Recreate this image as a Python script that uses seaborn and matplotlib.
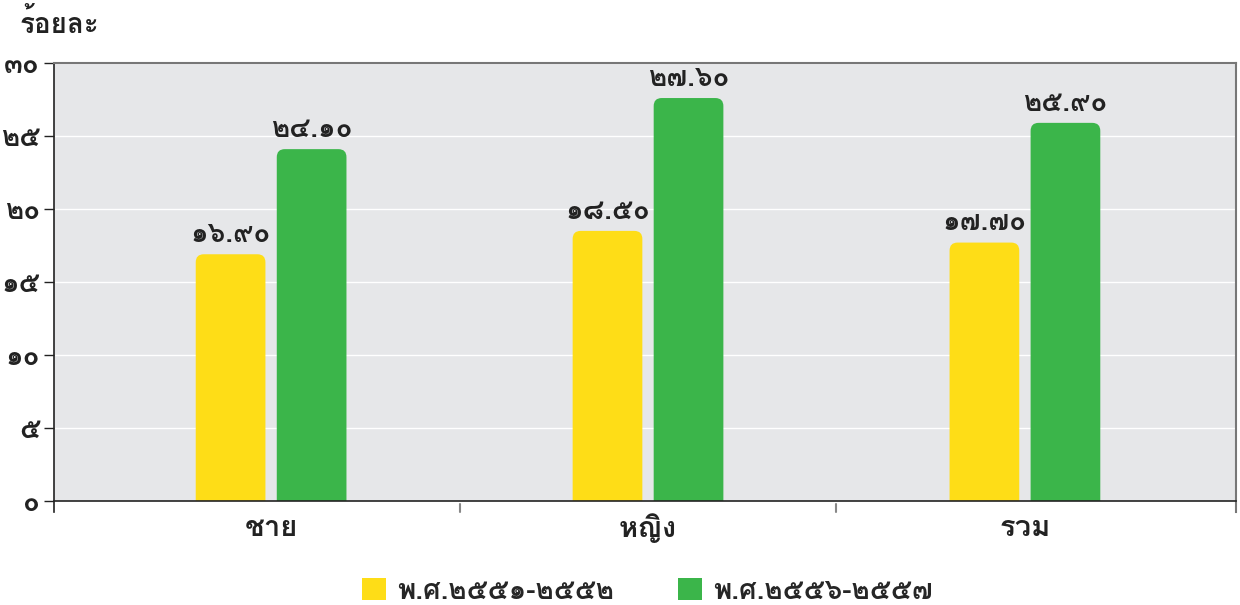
import matplotlib
matplotlib.use("Agg")
import matplotlib.pyplot as plt
from matplotlib import font_manager
from matplotlib.ft2font import FT2Font
from matplotlib.patches import FancyBboxPatch, Rectangle
import seaborn as sns
import pandas as pd

# ---- data ----
categories = ["ชาย", "หญิง", "รวม"]
periods = ["พ.ศ.๒๕๕๑-๒๕๕๒", "พ.ศ.๒๕๕๖-๒๕๕๗"]
values_2551 = [16.9, 18.5, 17.7]
values_2556 = [24.1, 27.6, 25.9]
y_ticks = [0, 5, 10, 15, 20, 25, 30]
y_label = "ร้อยละ"

colors = ["#fedd17", "#3bb54a"]

def thai_digits(s):
    return s.translate(str.maketrans("0123456789", "๐๑๒๓๔๕๖๗๘๙"))

# ---- find a font covering Thai ----
thai_font = None
cands = []
for f in font_manager.fontManager.ttflist:
    try:
        cm = FT2Font(f.fname).get_charmap()
    except Exception:
        continue
    if 0x0E01 in cm and 0x0E50 in cm:
        cands.append(f)
if cands:
    bold = [f for f in cands if (f.weight in ("bold", 700) or (isinstance(f.weight, int) and f.weight >= 600))]
    pick = (bold or cands)[0]
    thai_font = pick.name

sns.set_theme(style="white")
fams = ([thai_font] if thai_font else []) + ["DejaVu Sans"]
plt.rcParams["font.family"] = fams

df = pd.DataFrame({
    "cat": categories * 2,
    "period": [periods[0]] * 3 + [periods[1]] * 3,
    "val": values_2551 + values_2556,
})

fig = plt.figure(figsize=(12.4, 6.05), dpi=100)
ax = fig.add_axes([54 / 1240, 1 - 501 / 605, (1236 - 54) / 1240, (501 - 63) / 605])
ax.set_facecolor("#e6e7e9")

sns.barplot(data=df, x="cat", y="val", hue="period", palette=colors,
            width=0.43, gap=0.14, ax=ax, legend=False, saturation=1)

ax.set_xlim(-0.576, 2.56)
ax.set_ylim(0, 30)
ax.set_yticks(y_ticks)
ax.set_yticklabels([thai_digits(str(t)) for t in y_ticks], fontsize=20,
                   fontweight="bold", color="#222222")
ax.yaxis.grid(True, color="white", linewidth=1)
ax.set_axisbelow(True)

# rounded tops
fig.canvas.draw()
inv = ax.transData.inverted()
p0 = inv.transform((0, 0)); p1 = inv.transform((1, 1))
xu = p1[0] - p0[0]; yu = p1[1] - p0[1]
r_px = 8
bars = list(ax.patches)
for b in bars:
    x, w, h = b.get_x(), b.get_width(), b.get_height()
    fc = b.get_facecolor()
    b.set_visible(False)
    fb = FancyBboxPatch((x, -2), w, h + 2,
                        boxstyle=f"round,pad=0,rounding_size={r_px * xu}",
                        mutation_aspect=yu / xu, facecolor=fc, edgecolor="none",
                        zorder=2, clip_on=True)
    ax.add_patch(fb)
    ax.text(x + w / 2, h + 0.5, thai_digits(f"{h:.2f}"), ha="center", va="bottom",
            fontsize=20, fontweight="bold", color="#222222")

ax.set_xlabel("")
ax.set_ylabel("")
ax.set_xticks([0, 1, 2])
ax.set_xticklabels(categories, fontsize=21, fontweight="bold", color="#222222")
ax.tick_params(axis="x", length=0, pad=9)
ax.tick_params(axis="y", length=7, width=1, color="#222222", pad=3, left=True)
for x in [0.5, 1.5]:
    ax.plot([x, x], [-0.2, -0.75], color="#888888", lw=1.5, clip_on=False)

for s in ["left", "bottom"]:
    ax.spines[s].set_color("#222222")
    ax.spines[s].set_linewidth(1.2)
for s in ["top", "right"]:
    ax.spines[s].set_color("#777777")
    ax.spines[s].set_linewidth(1.5)
ax.spines["left"].set_bounds(-0.75, 30)
ax.spines["right"].set_bounds(-0.75, 30)

fig.text(20 / 1240, 1 - 23 / 605, y_label, fontsize=20, fontweight="bold",
         color="#222222", va="center", ha="left")

# legend
handles = [Rectangle((0, 0), 1, 1, facecolor=c, edgecolor="none") for c in colors]
fig.legend(handles, periods, loc="center", bbox_to_anchor=(0.522, 1 - 591 / 605),
           ncol=2, frameon=False, prop={"weight": "bold", "size": 20},
           handlelength=0.85, handleheight=0.85, columnspacing=2.3, handletextpad=0.4)

fig.savefig("out.png", dpi=100)
